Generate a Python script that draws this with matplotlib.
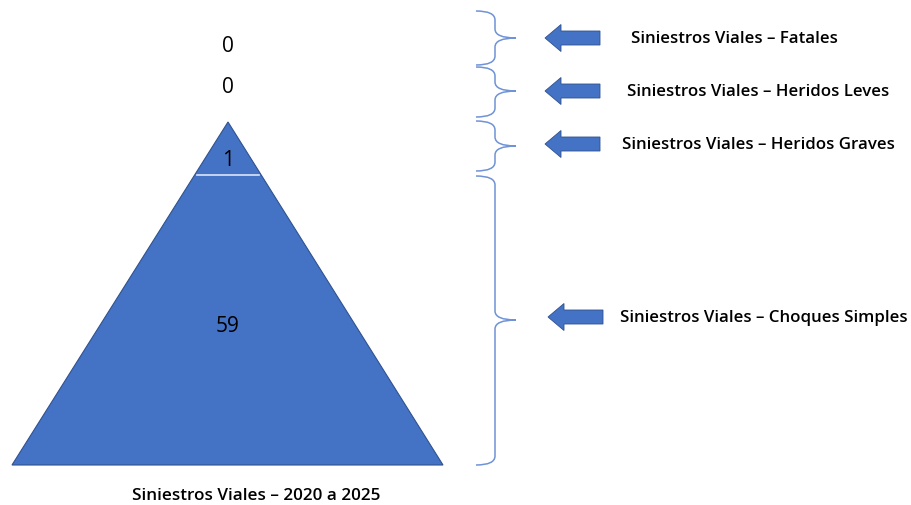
import matplotlib
matplotlib.use("Agg")
import matplotlib.pyplot as plt
from matplotlib.patches import Polygon, FancyArrow, PathPatch
from matplotlib.path import Path

plt.rcParams['font.family'] = ['Open Sans', 'DejaVu Sans']

categorias = ["Siniestros Viales – Fatales",
              "Siniestros Viales – Heridos Leves",
              "Siniestros Viales – Heridos Graves",
              "Siniestros Viales – Choques Simples"]
valores = [0, 0, 1, 59]
titulo = "Siniestros Viales – 2020 a 2025"

azul = "#4472C4"
borde = "#2F528F"

fig = plt.figure(figsize=(9.12, 5.06), dpi=100)
ax = fig.add_axes([0, 0, 1, 1])
ax.set_xlim(0, 912)
ax.set_ylim(506, 0)
ax.axis('off')

# piramide
apex = (228, 123)
base_y = 466
base_l, base_r = 12, 443
ax.add_patch(Polygon([apex, (base_l, base_y), (base_r, base_y)], closed=True,
                     facecolor=azul, edgecolor=borde, lw=0.8))
# linea separadora (graves / simples)
sep_y = 176
frac = (sep_y - apex[1]) / (base_y - apex[1])
half = frac * (base_r - base_l) / 2
ax.plot([apex[0] - half + 2, apex[0] + half - 2], [sep_y, sep_y], color="#dce6f5", lw=1.2)

# valores
pos_val = [46, 87, 160, 326]
for v, y in zip(valores, pos_val):
    ax.text(228, y, str(v), ha='center', va='center', fontsize=15, color='black')


def llave(ax, y0, y1, ym, xl=476, xv=495, xt=516, r=9):
    verts = [(xl, y0), (xv, y0), (xv, y0 + r),
             (xv, ym - r),
             (xv, ym), (xt, ym), (xt, ym),
             (xv, ym), (xv, ym + r),
             (xv, y1 - r),
             (xv, y1), (xl, y1)]
    codes = [Path.MOVETO, Path.CURVE3, Path.CURVE3,
             Path.LINETO,
             Path.CURVE3, Path.CURVE3, Path.MOVETO,
             Path.CURVE3, Path.CURVE3,
             Path.LINETO,
             Path.CURVE3, Path.CURVE3]
    ax.add_patch(PathPatch(Path(verts, codes), facecolor='none', edgecolor='#6f93d6', lw=1.1))


llaves = [(12, 66, 39), (68, 118, 92), (122, 172, 147), (177, 466, 321)]
for y0, y1, ym in llaves:
    llave(ax, y0, y1, ym)

# flechas y etiquetas
flecha_y = [39, 92, 145, 318]
flecha_x = [600, 600, 600, 603]
texto_x = [631, 627, 622, 620]
for cat, fy, fx, tx in zip(categorias, flecha_y, flecha_x, texto_x):
    ax.add_patch(FancyArrow(fx, fy, -55, 0, width=14, head_width=27, head_length=16,
                            length_includes_head=True, facecolor=azul, edgecolor=borde, lw=0.6))
    ax.text(tx, fy, cat, ha='left', va='center', fontsize=12.2, fontweight='semibold', color='black')

ax.text(256, 496, titulo, ha='center', va='center', fontsize=12.3, fontweight='semibold', color='black')

fig.savefig("out.png", dpi=100)
